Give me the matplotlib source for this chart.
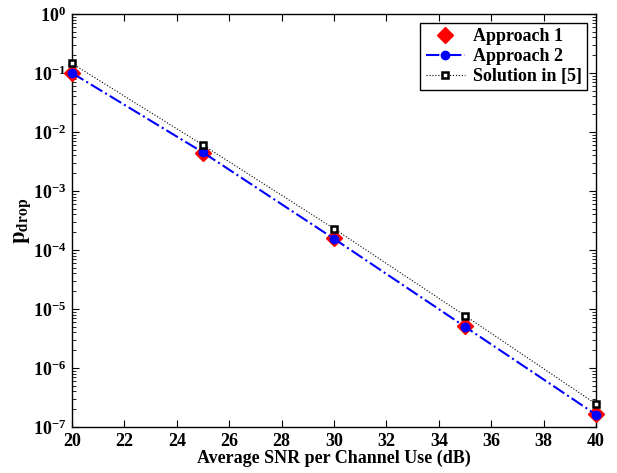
import matplotlib
matplotlib.use("Agg")
import matplotlib.pyplot as plt
from matplotlib.ticker import LogLocator, NullFormatter

plt.rcParams['font.family'] = 'Liberation Serif'
plt.rcParams['font.weight'] = 'bold'
plt.rcParams['mathtext.fontset'] = 'stix'
plt.rcParams['mathtext.default'] = 'bf'

# data
snr = [20, 25, 30, 35, 40]
approach1 = [1.0e-1, 4.4e-3, 1.6e-4, 5.1e-6, 1.66e-7]
approach2 = [1.0e-1, 4.5e-3, 1.55e-4, 5.0e-6, 1.62e-7]
solution5 = [1.45e-1, 6.0e-3, 2.3e-4, 7.7e-6, 2.45e-7]

fig = plt.figure(figsize=(6.17, 4.73), dpi=100)
ax = fig.add_axes([0.1167, 0.0973, 0.8493, 0.8731])

ax.semilogy(snr, approach1, linestyle='none', marker='D', color='red',
            markersize=8, label='Approach 1', clip_on=False, zorder=3)
ax.semilogy(snr, approach2, linestyle='-.', marker='o', color='blue',
            linewidth=1.5, markersize=6, label='Approach 2', clip_on=False, zorder=4)
ax.semilogy(snr, solution5, linestyle=':', marker='s', color='black',
            markerfacecolor='white', markeredgewidth=1.8, linewidth=0.8,
            markersize=5, label='Solution in [5]', clip_on=False, zorder=5)

ax.set_xlim(20, 40)
ax.set_ylim(1e-7, 1e0)
ax.set_xticks(range(20, 41, 2))
ax.yaxis.set_major_locator(LogLocator(base=10, numticks=10))
ax.yaxis.set_minor_locator(LogLocator(base=10, subs=range(2, 10), numticks=100))
ax.yaxis.set_minor_formatter(NullFormatter())

ax.tick_params(which='both', direction='in', top=True, right=True, labelsize=13)
ax.tick_params(which='major', length=5, pad=4)
ax.tick_params(which='minor', length=3)
for sp in ax.spines.values():
    sp.set_linewidth(1.0)

ax.set_xlabel('Average SNR per Channel Use (dB)', fontsize=13, fontweight='bold', labelpad=0)
ax.set_ylabel(r'$\mathbf{p_{drop}}$', fontsize=16)
ax.yaxis.set_label_coords(-0.074, 0.5)

leg = ax.legend(loc='upper right', fontsize=13, fancybox=False, edgecolor='black',
                framealpha=1, handlelength=2.2, borderpad=0.3, labelspacing=0.15,
                handletextpad=0.4, borderaxespad=0.5)
leg.get_frame().set_linewidth(1.0)

fig.savefig('out.png', dpi=100)
